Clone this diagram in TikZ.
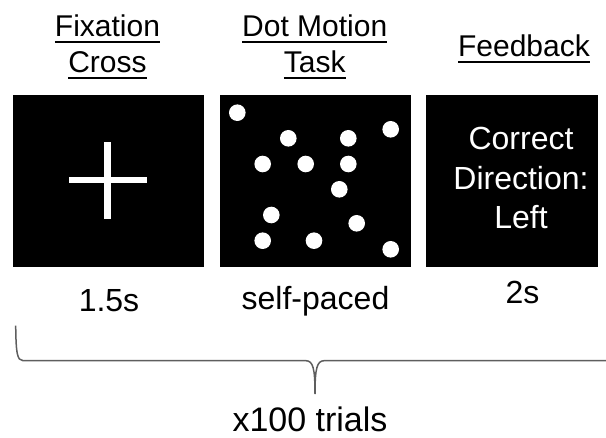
\documentclass[tikz,border=0pt]{standalone}
\usepackage{fontspec}
\setmainfont{Liberation Sans}
\usepackage{tikz}
\usetikzlibrary{positioning}

\definecolor{bracegray}{HTML}{5E5E5E}
% underline a single line of a header
\newcommand{\ulword}[1]{\setbox0\hbox{#1}\rlap{\vrule width\wd0 height -4.5pt depth 6.2pt}\box0}

\begin{document}
\begin{tikzpicture}[x=1pt, y=-1pt,
	panel/.style={
		rectangle,
		fill=black,
		minimum height=172pt,
		inner sep=0pt,
	},
	head/.style={align=center, anchor=base, inner sep=0pt, font=\fontsize{30}{36.5}\selectfont},
	timing/.style={anchor=base, inner sep=0pt, font=\fontsize{32}{38}\selectfont},
	dotfill/.style={fill=white},
	]
	\useasboundingbox (0,0) rectangle (606,438);
	\clip (0,0) rectangle (606,438);

	% the three screens
	\node[panel, minimum width=191pt] (fix) at (108.5,181) {};
	\node[panel, minimum width=191pt, right=16pt of fix] (rdk) {};
	\node[panel, minimum width=172pt, right=14pt of rdk] (fb) {};

	% headers (base = last line)
	\node[head] (fixhead) at (107.5,73) {\ulword{Fixation}\\\ulword{Cross}};
	\node[head] (rdkhead) at (314.7,73) {\ulword{Dot Motion}\\\ulword{Task}};
	\node[head] (fbhead) at (524,56.7) {\ulword{Feedback}};

	% fixation cross
	\fill[white] (104.3,142) rectangle (111,219);
	\fill[white] (69,177.3) rectangle (147,183.3);

	% moving dots
	\foreach \x/\y in {237.3/112.7, 288.3/138.3, 348.3/138.3, 390.7/129.3,
		262.7/164, 305.7/164, 348.3/164, 339.3/189.3,
		271.3/215, 356.7/223.3, 262.7/240.7, 314/240.7, 390.7/249.3}
		\fill[dotfill] (\x,\y) circle (8.3pt);

	% feedback text
	\node[anchor=base, align=center, inner sep=0pt, text=white,
		font=\fontsize{32}{39.5}\selectfont] (fbtext) at (521,229) {Correct\\Direction:\\Left};

	% durations
	\node[timing] (fixtime) at (109,312) {1.5s};
	\node[timing] (rdktime) at (315.5,309.5) {self-paced};
	\node[timing] (fbtime) at (522.5,304) {2s};

	% brace over one trial
	\draw[bracegray, line width=1.5pt]
		(15.7,325.7) .. controls (16,352) and (17,360.7) .. (23,360.7)
		-- (306,360.7) .. controls (313,361) and (315,368) .. (315,394)
		.. controls (315,368) and (317,361) .. (324,360.7)
		-- (607,360.7) .. controls (613,360.7) and (614,352) .. (614.3,325.7);
	\node[anchor=base, inner sep=0pt, font=\fontsize{34}{40}\selectfont] (reps) at (310,432) {x100 trials};
\end{tikzpicture}
\end{document}
